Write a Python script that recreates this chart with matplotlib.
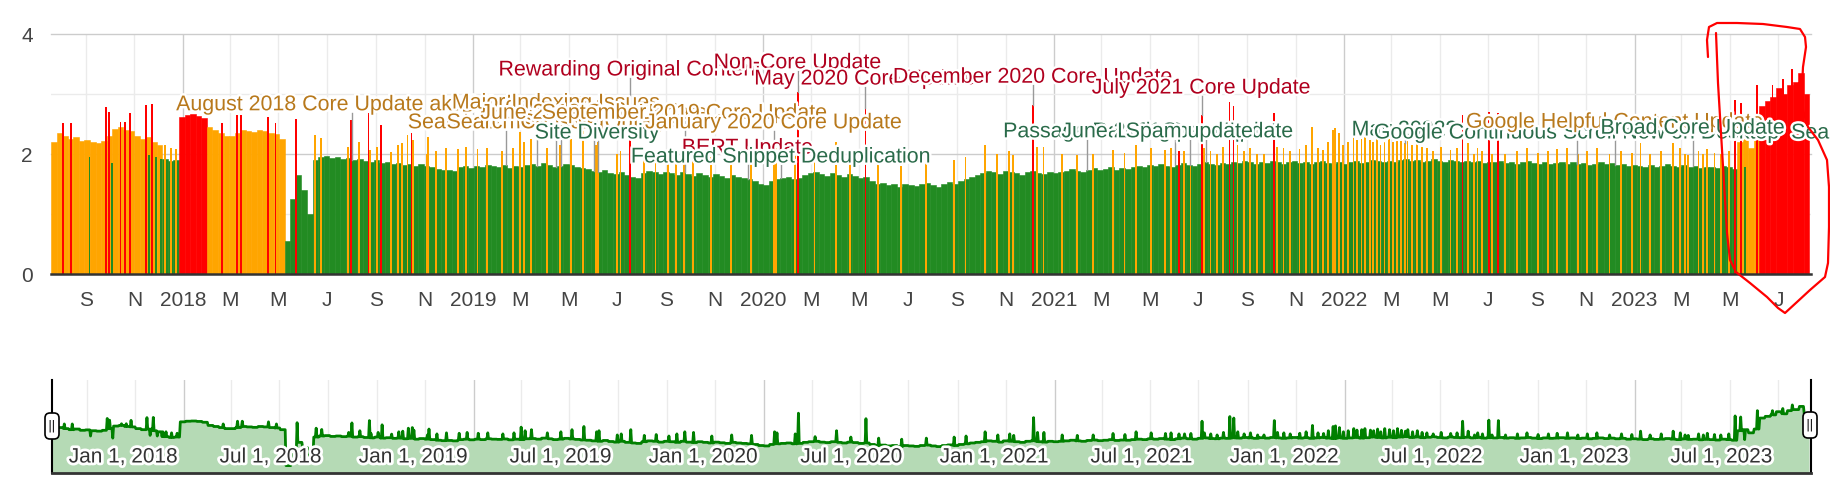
import numpy as np
import matplotlib
matplotlib.use('Agg')
import matplotlib.pyplot as plt
import matplotlib.dates as mdates
import matplotlib.patheffects as pe
from matplotlib.lines import Line2D
from matplotlib.patches import FancyBboxPatch
from matplotlib.transforms import IdentityTransform, blended_transform_factory
from datetime import date

plt.rcParams['font.family'] = ['Liberation Sans', 'DejaVu Sans']

# ---- data -------------------------------------------------------------
start = date(2017, 7, 19)
end = date(2023, 8, 11)

# one value per week, starting on `start`
weekly_value = [
    # Jul - Nov 2017 (orange)
    2.20, 2.35, 2.30, 2.25, 2.28, 2.22, 2.24, 2.20, 2.18, 2.22, 2.30, 2.42, 2.45, 2.40, 2.38,
    2.30, 2.25, 2.28, 2.20, 2.15,
    # Dec 2017 (green)
    1.92, 1.88, 1.90,
    # Jan 2018 (red)
    2.62, 2.65, 2.66, 2.64, 2.60,
    # Feb - May 2018 (orange)
    2.45, 2.40, 2.35, 2.30, 2.30, 2.35, 2.40, 2.38, 2.36, 2.40, 2.38, 2.35, 2.33, 2.25,
    # May 2018 - May 2023 (green)
    0.55, 1.25, 1.65, 1.40, 1.00, 1.90,
    1.95, 1.97, 1.93, 1.95, 1.92, 1.94,
    1.90, 1.92, 1.88, 1.86, 1.90, 1.85, 1.87, 1.84,
    1.85, 1.82, 1.84, 1.80, 1.83, 1.80, 1.78,
    1.75, 1.73, 1.74, 1.72, 1.78, 1.80, 1.77,
    1.80, 1.78, 1.82, 1.80, 1.79, 1.81, 1.77, 1.80, 1.78, 1.82,
    1.83, 1.80, 1.85, 1.82, 1.78, 1.80, 1.84, 1.81, 1.79, 1.76,
    1.75, 1.72, 1.70, 1.74, 1.69, 1.66, 1.70, 1.65, 1.62, 1.60,
    1.68, 1.72, 1.70, 1.66, 1.70, 1.68, 1.65, 1.70,
    1.66, 1.64, 1.68, 1.65, 1.62, 1.66, 1.63, 1.60, 1.65, 1.62, 1.60, 1.58, 1.55,
    1.50, 1.48, 1.55, 1.58, 1.60, 1.62, 1.58, 1.60,
    1.65, 1.68, 1.70, 1.66, 1.64, 1.68, 1.65, 1.62, 1.66, 1.64, 1.60, 1.62,
    1.55, 1.50, 1.52, 1.48, 1.50, 1.45, 1.50, 1.48, 1.46, 1.50, 1.52, 1.48, 1.45, 1.50,
    1.53, 1.50, 1.55, 1.58, 1.62,
    1.65, 1.68, 1.72, 1.70, 1.66, 1.72, 1.70, 1.68, 1.65, 1.70, 1.72, 1.68, 1.66, 1.70, 1.68,
    1.70, 1.72, 1.75, 1.72, 1.70, 1.74, 1.76, 1.73, 1.75, 1.78, 1.74, 1.76, 1.75, 1.78,
    1.80, 1.78, 1.82, 1.80, 1.83, 1.80, 1.78, 1.82, 1.85, 1.82, 1.80, 1.84, 1.86, 1.83,
    1.82, 1.85, 1.84, 1.86,
    1.85, 1.88, 1.86, 1.84, 1.87, 1.85, 1.88, 1.86, 1.84, 1.86, 1.88, 1.85, 1.87, 1.84,
    1.86, 1.88, 1.85, 1.83, 1.86, 1.84,
    1.86, 1.88, 1.85, 1.87, 1.90, 1.88, 1.86, 1.89, 1.87, 1.90, 1.92, 1.88, 1.90, 1.87,
    1.89, 1.91, 1.88, 1.86, 1.90, 1.88, 1.87, 1.89, 1.86, 1.88, 1.85, 1.87,
    1.86, 1.88, 1.85, 1.87, 1.84, 1.86, 1.88, 1.85, 1.83, 1.86, 1.84, 1.85, 1.87, 1.84,
    1.86, 1.83, 1.85, 1.82, 1.84, 1.86, 1.83, 1.85, 1.82, 1.84, 1.80, 1.82,
    1.80, 1.78, 1.82, 1.79, 1.80, 1.83, 1.80, 1.78, 1.81, 1.79, 1.80, 1.77, 1.79, 1.78,
    1.76, 1.80, 1.78, 1.75,
    # late May 2023 (orange)
    2.20, 2.25, 2.10, 2.28,
    # Jun - Aug 2023 (red)
    2.80, 2.88, 2.95, 3.10, 3.00, 3.15, 3.20, 3.35, 3.00,
]
week_color_runs = [('o', 20), ('g', 3), ('r', 5), ('o', 14), ('g', 261), ('o', 4), ('r', 9)]

# single-day bars (day number counted from `start`)
red_day = [15, 25, 69, 72, 87, 93, 99, 119, 127, 215, 233, 239, 272, 282, 308,
           377, 399, 415, 453, 728, 939, 1024, 1235, 1418, 1447, 1482, 1487, 1538,
           1775, 1808, 1820, 2118, 2125, 2146, 2165, 2178, 2190, 2198, 2209]
red_value = [2.52, 2.52, 2.78, 2.70, 2.53, 2.53, 2.69, 2.82, 2.83, 2.52, 2.65, 2.65, 2.62, 2.52, 2.58,
             2.57, 2.68, 2.48, 2.35, 2.25, 3.03, 2.77, 2.82, 2.05, 2.65, 2.87, 2.80, 2.68,
             2.65, 2.70, 2.68, 2.90, 2.85, 3.15, 3.15, 3.25, 3.42, 3.20, 2.78]

green_day = [48, 76, 123, 132, 138, 2130]
green_value = [1.95, 1.85, 1.98, 1.95, 1.92, 1.78]

orange_day = [143, 150, 157, 332, 339, 373, 387, 401, 410, 427, 436, 441, 448, 455, 472,
              474, 484, 496, 512, 522, 536, 548, 567, 581, 590, 595, 603, 623, 640, 654,
              669, 685, 688, 711, 716, 745, 760, 776, 786, 796, 807, 830, 855, 880, 909,
              912, 935, 960, 987, 1005, 1040, 1069, 1100, 1135, 1150, 1174, 1190, 1205, 1210, 1240,
              1248, 1271, 1290, 1310, 1335, 1350, 1364, 1383, 1401, 1408, 1425, 1433, 1450, 1458, 1466,
              1474, 1492, 1500, 1508, 1517, 1525, 1542, 1550, 1558, 1570, 1578, 1586, 1593, 1600, 1606,
              1612, 1615, 1620, 1625, 1631, 1638, 1642, 1648, 1652, 1659, 1663, 1668, 1672, 1677, 1683,
              1688, 1693, 1698, 1703, 1706, 1712, 1718, 1724, 1730, 1738, 1748, 1760, 1768, 1782, 1790,
              1794, 1800, 1812, 1829, 1844, 1856, 1870, 1883, 1894, 1907, 1920, 1932, 1944, 1960, 1975,
              1988, 1999, 2011, 2025, 2040, 2049, 2055, 2059, 2072, 2078, 2083, 2092, 2100, 2110]
orange_value = [2.15, 2.10, 2.08, 2.32, 2.26, 2.12, 2.20, 2.07, 2.12, 2.04, 2.15, 2.18, 2.32, 2.23, 2.00,
                2.28, 2.05, 2.10, 2.08, 2.12, 2.08, 2.10, 2.05, 2.10, 2.37, 2.20, 2.25, 2.10, 2.15, 2.25,
                2.40, 2.15, 2.20, 2.00, 2.05, 1.98, 2.02, 1.95, 2.05, 2.15, 2.12, 1.95, 2.00, 1.98, 2.15,
                2.10, 2.05, 1.92, 2.20, 1.90, 1.85, 1.80, 1.85, 1.90, 1.95, 2.15, 2.00, 2.05, 1.98, 2.12,
                2.12, 2.00, 1.98, 2.00, 2.07, 2.02, 2.15, 2.10, 2.07, 2.10, 2.05, 2.07, 2.10, 2.05, 2.00,
                2.12, 2.15, 2.05, 2.10, 2.00, 2.00, 2.12, 2.10, 2.05, 2.08, 2.15, 2.45, 2.10, 2.07, 2.20,
                2.40, 2.43, 2.35, 2.15, 2.20, 2.30, 2.23, 2.25, 2.30, 2.23, 2.20, 2.28, 2.15, 2.30, 2.25,
                2.20, 2.30, 2.22, 2.18, 2.25, 2.15, 2.20, 2.12, 2.10, 2.05, 2.12, 2.07, 2.10, 2.18, 2.00,
                2.10, 2.05, 2.00, 2.00, 2.05, 2.10, 2.02, 2.05, 2.08, 2.10, 2.00, 2.05, 2.10, 2.00, 2.05,
                2.02, 2.18, 2.00, 2.05, 2.18, 2.10, 2.00, 1.98, 2.05, 2.00, 2.08, 2.02, 2.00, 2.05]

# annotations, in drawing order
ann_date = ['2018-08-01', '2019-02-11', '2019-03-22', '2019-04-15', '2019-04-21',
            '2019-06-02', '2019-06-06', '2019-07-17', '2019-09-24', '2019-12-12',
            '2020-01-14', '2020-01-23', '2020-02-13', '2020-05-08', '2020-12-05',
            '2021-02-11', '2021-06-02', '2021-07-10', '2021-06-20', '2021-07-05',
            '2022-03-18', '2022-10-20', '2022-12-07', '2023-03-15', '2023-07-17']
ann_text = ['August 2018 Core Update aka Medic', 'Search Console Bug', 'Deindexing Bug',
            'Major Indexing Issues', 'Search Console Outage',
            'June 2019 Core Update', 'Site Diversity', 'Rewarding Original Content',
            'September 2019 Core Update', 'BERT Update',
            'January 2020 Core Update', 'Featured Snippet Deduplication', 'Non-Core Update',
            'May 2020 Core Update', 'December 2020 Core Update',
            'Passage Ranking', 'June 2021 Core Update', 'Link Spam Update', 'Spam update',
            'July 2021 Core Update',
            'May 2022?', 'Google Continuous Scroll New on Desktop', 'Google Helpful Content Update',
            'Broad Core Update', 'Search Generative Experience']
ann_level = [2.82, 2.52, 2.80, 2.85, 2.52,
             2.68, 2.35, 3.40, 2.68, 2.10,
             2.52, 1.95, 3.52, 3.25, 3.28,
             2.37, 2.37, 2.37, 2.37, 3.10,
             2.40, 2.35, 2.53, 2.43, 2.35]
ann_kind = 'ooooo' 'ogror' 'ogrrr' 'ggggr' 'ggogg'
ann_align = ['center'] * 24 + ['left']

# ---- styling ----------------------------------------------------------
W, H = 1830, 487
BAR = {'o': '#ffa500', 'g': '#228b22', 'r': '#ff0000'}
TXT = {'o': '#b8791c', 'g': '#2a6b4a', 'r': '#b0001e'}
halo = [pe.withStroke(linewidth=3.5, foreground='white')]

fig = plt.figure(figsize=(W / 100, H / 100), dpi=100)
ax = fig.add_axes([51 / W, (H - 274) / H, 1760 / W, 240 / H])

t0 = mdates.date2num(start)
t1 = mdates.date2num(end)

week_colors = []
for c, n in week_color_runs:
    week_colors += [BAR[c]] * n
wk_x = t0 + 7 * np.arange(len(weekly_value))
ax.bar(wk_x, weekly_value, width=7, align='edge', color=week_colors,
       edgecolor=week_colors, linewidth=0.4, zorder=2)

daily = np.repeat(np.array(weekly_value, dtype=float), 7)
for days, vals, c in [(orange_day, orange_value, 'o'), (green_day, green_value, 'g'),
                      (red_day, red_value, 'r')]:
    ax.bar(t0 + np.array(days) + 0.5, vals, width=2.3, color=BAR[c], linewidth=0, zorder=3)
    daily[days] = vals

# grid
ticks = [date(y, m, 1) for y in range(2017, 2024) for m in (1, 3, 5, 7, 9, 11)]
ticks = [d for d in ticks if date(2017, 9, 1) <= d <= date(2023, 7, 1)]
month_letter = {1: None, 3: 'M', 5: 'M', 7: 'J', 9: 'S', 11: 'N'}
for d in ticks:
    ax.axvline(mdates.date2num(d), color='#cccccc' if d.month == 1 else '#ebebeb',
               lw=1, zorder=1)
for v in (1, 3):
    ax.axhline(v, color='#ebebeb', lw=1, zorder=1)
for v in (2, 4):
    ax.axhline(v, color='#cccccc', lw=1, zorder=1, clip_on=False)

ax.set_xlim(t0, t1)
ax.set_ylim(0, 4)
ax.set_xticks([mdates.date2num(d) for d in ticks])
ax.set_xticklabels([str(d.year) if d.month == 1 else month_letter[d.month] for d in ticks])
ax.set_yticks([0, 2, 4])
ax.tick_params(axis='x', length=0, pad=12, labelsize=15, labelcolor='#444444')
ax.tick_params(axis='y', length=0, pad=13, labelsize=15, labelcolor='#444444')
for s in ('top', 'left', 'right'):
    ax.spines[s].set_visible(False)
ax.spines['bottom'].set_color('#333333')
ax.spines['bottom'].set_linewidth(1.8)
ax.spines['bottom'].set_zorder(6)

# annotations
for d, txt, lvl, kind, ha in zip(ann_date, ann_text, ann_level, ann_kind, ann_align):
    x = mdates.date2num(date.fromisoformat(d))
    i = int(x - t0)
    top = daily[i] if 0 <= i < len(daily) else 0.0
    if lvl - 0.13 > top:
        ax.plot([x + 0.5, x + 0.5], [top, lvl - 0.13], color='#999999', lw=1, zorder=4)
    ax.text(x, lvl, txt, ha=ha, va='center', color=TXT[kind], fontsize=15.4,
            zorder=5, clip_on=False, path_effects=halo)

# ---- range navigator --------------------------------------------------
nav = fig.add_axes([52 / W, 14 / H, 1759 / W, 93 / H])
nav.set_xlim(t0, t1)
nav.set_ylim(0.2, 4.6)
for d in ticks:
    nav.axvline(mdates.date2num(d), color='#cccccc' if d.month == 1 else '#ebebeb',
                lw=1, zorder=0)
xd = t0 + np.arange(len(daily)) + 0.5
nav.fill_between(xd, 0.2, daily, color='#b5dab5', lw=0, zorder=1)
nav.plot(xd, daily, color='#008000', lw=2.0, zorder=2)
nav.set_xticks([])
nav.set_yticks([])
nav.spines['top'].set_visible(False)
nav.spines['bottom'].set_color('#333333')
nav.spines['bottom'].set_linewidth(2)
for s in ('left', 'right'):
    nav.spines[s].set_color('black')
    nav.spines[s].set_linewidth(1.5)

tr = blended_transform_factory(nav.transData, nav.transAxes)
for y in range(2018, 2024):
    for m, name in ((1, 'Jan'), (7, 'Jul')):
        nav.annotate(f'{name} 1, {y}', xy=(mdates.date2num(date(y, m, 1)), 0.172),
                     xycoords=tr, xytext=(-6, 0), textcoords='offset pixels',
                     ha='right', va='center', fontsize=15, color='#333333', zorder=4,
                     path_effects=[pe.withStroke(linewidth=4, foreground='white')])

# slider handles
for cx, cy in ((52, 426), (1810, 425)):
    fig.add_artist(FancyBboxPatch((cx - 7, H - cy - 13), 14, 26,
                                  boxstyle='round,pad=0,rounding_size=5',
                                  transform=IdentityTransform(), fc='white',
                                  ec='black', lw=1.2, zorder=10))
    fig.text(cx / W, 1 - cy / H, '||', ha='center', va='center', fontsize=9,
             color='black', zorder=11, family='DejaVu Sans')

# hand-drawn red loop around the last weeks
loop_px = [(1708, 57), (1707, 40), (1709, 27), (1717, 23), (1737, 23), (1763, 24),
           (1787, 27), (1800, 29), (1805, 37), (1806, 47), (1803, 67), (1802, 87),
           (1803, 110), (1808, 127), (1818, 140), (1827, 160), (1829, 187), (1829, 227),
           (1828, 263), (1825, 277), (1810, 290), (1797, 302), (1785, 313), (1778, 308),
           (1767, 297), (1750, 283), (1736, 272), (1730, 260), (1727, 233), (1724, 183),
           (1721, 133), (1718, 83), (1716, 33)]
lx = [p[0] / W for p in loop_px]
ly = [1 - p[1] / H for p in loop_px]
fig.add_artist(Line2D(lx, ly, transform=fig.transFigure, color='#ff0000', lw=1.6,
                      solid_joinstyle='round', solid_capstyle='round', zorder=12))

fig.savefig('out.png', dpi=100)
